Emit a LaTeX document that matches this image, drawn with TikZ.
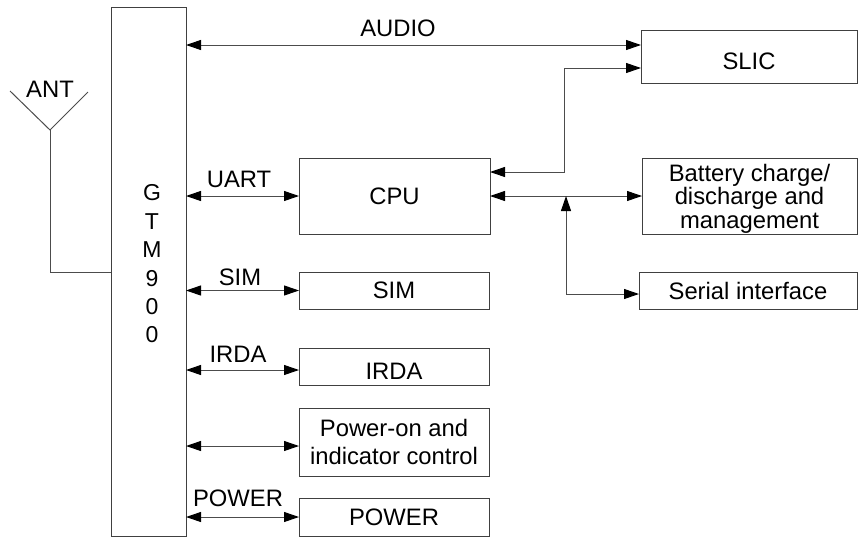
\documentclass[tikz,border=0pt]{standalone}
\usepackage{fontspec}
\setmainfont{Liberation Sans}
\usetikzlibrary{arrows.meta}
\newcommand\dfont{\fontsize{23.8}{23.8}\selectfont}
\begin{document}
\begin{tikzpicture}[x=1pt,y=-1pt,
  box/.style={draw=black!75, line width=1pt, inner sep=0pt, outer sep=0pt, font=\dfont, align=center},
  con/.style={draw=black!70, line width=1pt, {Triangle[length=15pt,width=10pt,black]}-{Triangle[length=15pt,width=10pt,black]}},
  wire/.style={draw=black!70, line width=1pt},
  lbl/.style={font=\dfont, inner sep=0pt}]
\useasboundingbox (0,0) rectangle (858,538);
% boxes
\node[box, minimum width=75pt, minimum height=529pt] (gtm) at (148.5,271.5) {};
\node[lbl, align=center, font=\fontsize{23}{28.4}\selectfont] (gtmtxt) at (152,264) {G\\T\\M\\9\\0\\0};
\node[box, minimum width=216pt, minimum height=53pt, text height=26.8pt, text depth=0pt] (slic) at (749,56.5) {SLIC};
\node[box, minimum width=191pt, minimum height=76pt] (cpu) at (394.5,196) {CPU};
\node[box, minimum width=215pt, minimum height=76pt, text depth=0pt, font=\fontsize{23.8}{23.5}\selectfont] (batt) at (749.5,196) {Battery charge/\\discharge and\\management};
\node[box, minimum width=218pt, minimum height=37pt] (serial) at (748,290.5) {Serial interface};
\node[box, minimum width=190pt, minimum height=37pt] (sim) at (394,290.5) {SIM};
\node[box, minimum width=190pt, minimum height=37pt, text height=25.8pt, text depth=0pt] (irda) at (394,366.5) {IRDA};
\node[box, minimum width=190pt, minimum height=68pt, text depth=0pt, font=\fontsize{23.8}{28}\selectfont] (pwr) at (394,442) {Power-on and\\indicator control};
\node[box, minimum width=190pt, minimum height=38pt] (power) at (394,517) {POWER};
% helper coordinates
\coordinate (yA) at (0,45);
\coordinate (k1) at (564,172);
\coordinate (k2) at (564,68);
\coordinate (j1) at (566,196);
\coordinate (j2) at (566,294);
\coordinate (yI) at (0,370);
\coordinate (yP) at (0,446);
\coordinate (a1) at (10,91);
\coordinate (a0) at (50,130);
\coordinate (a2) at (88,92);
\coordinate (a3) at (50,272);
% connectors
\draw[con] (gtm.east |- yA) -- (slic.west |- yA);
\node[lbl] (audio) at (398,28) {AUDIO};
\draw[con] (cpu.east |- k1) -- (k1) -- (k2) -- (slic.west |- k2);
\draw[con] (gtm.east |- cpu.west) -- (cpu.west);
\node[lbl] (uart) at (239,179) {UART};
\draw[con] (cpu.east) -- (batt.west |- cpu.east);
\draw[con] (j1) -- (j2) -- (serial.west |- j2);
\draw[con] (gtm.east |- sim.west) -- (sim.west);
\node[lbl] (simlbl) at (240,277) {SIM};
\draw[con] (gtm.east |- yI) -- (irda.west |- yI);
\node[lbl] (irdalbl) at (238,354) {IRDA};
\draw[con] (gtm.east |- yP) -- (pwr.west |- yP);
\draw[con] (gtm.east |- power.west) -- (power.west);
\node[lbl] (powerlbl) at (238,498) {POWER};
% antenna
\draw[wire] (a1) -- (a0) -- (a2);
\draw[wire] (a0) -- (a3) -- (gtm.west |- a3);
\node[lbl] (ant) at (50,89) {ANT};
\end{tikzpicture}
\end{document}
